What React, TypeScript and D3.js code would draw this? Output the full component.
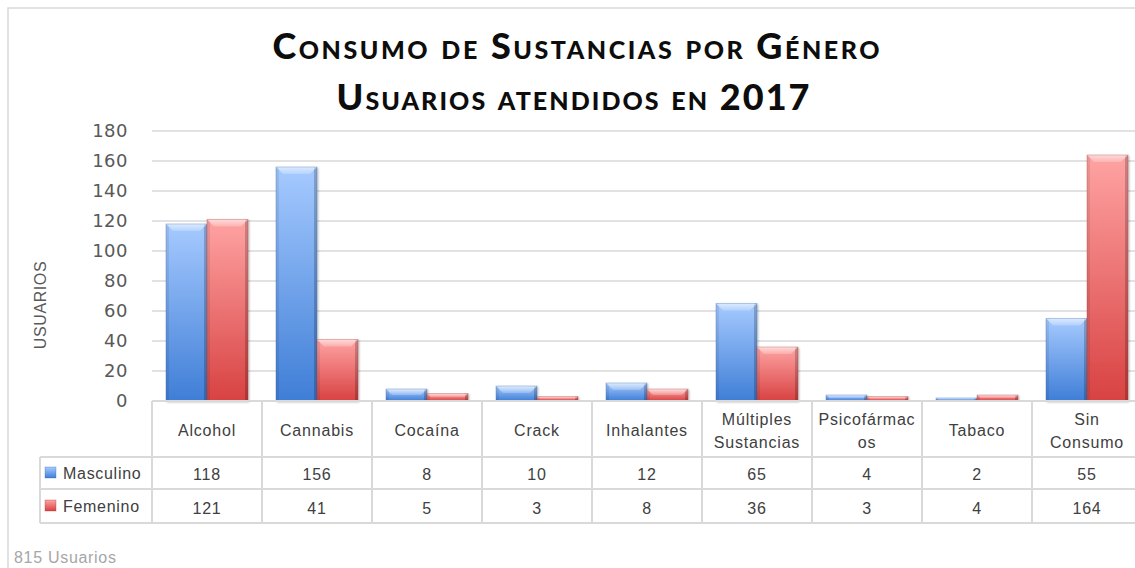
import React from "react";
import * as d3 from "d3";

const categories = ["Alcohol", "Cannabis", "Cocaína", "Crack", "Inhalantes", "Múltiples Sustancias", "Psicofármacos", "Tabaco", "Sin Consumo"];
const categoryLines = [["Alcohol"], ["Cannabis"], ["Cocaína"], ["Crack"], ["Inhalantes"], ["Múltiples", "Sustancias"], ["Psicofármac", "os"], ["Tabaco"], ["Sin", "Consumo"]];
const seriesNames = ["Masculino", "Femenino"];
const masculino = [118, 156, 8, 10, 12, 65, 4, 2, 55];
const femenino = [121, 41, 5, 3, 8, 36, 3, 4, 164];
const seriesValues = [masculino, femenino];
const titleLine1 = "Consumo de Sustancias  por Género";
const titleLine2 = "Usuarios atendidos en 2017";
const yTitle = "USUARIOS";
const footer = "815 Usuarios";

const W = 1135, H = 568;
const plotTop = 131, plotBottom = 401;
const tableLeft = 152, tableRight = 1142, legendLeft = 40;
const rowHeader = 457, rowM = 489, rowF = 523;

const grads = [
  { id: "gBlue", top: "#a6caff", bottom: "#3f7ed6", edge: "#2f64b0" },
  { id: "gRed", top: "#ffa3a3", bottom: "#d84242", edge: "#a83030" },
];

function Bar({ x, y, w, h, g }: any) {
  if (h <= 0) return null;
  const b = Math.min(7, h / 2);
  return (
    <g filter="url(#shadow)">
      <rect x={x} y={y} width={w} height={h} fill={`url(#${g.id})`} />
      <rect x={x} y={y} width={3} height={h} fill="#000" opacity={0.08} />
      <rect x={x + w - 3} y={y} width={3} height={h} fill="#000" opacity={0.2} />
      <polygon
        points={`${x},${y} ${x + w},${y} ${x + w - b},${y + b} ${x + b},${y + b}`}
        fill="url(#bevel)"
      />
      <rect x={x} y={y} width={w} height={h} fill="none" stroke={g.edge} strokeOpacity={0.35} strokeWidth={0.8} />
    </g>
  );
}

export default function App() {
  const x0 = d3.scaleBand<string>().domain(categories).range([tableLeft, tableRight]);
  const x1 = d3.scaleBand<string>().domain(seriesNames).range([0, x0.bandwidth()]).paddingOuter(0.341);
  const y = d3.scaleLinear().domain([0, 180]).range([plotBottom, plotTop]);
  const ticks = y.ticks(9);
  const boundaries = categories.map((c) => x0(c)!).concat([tableRight]);
  const axisColor = "#595959";
  const textColor = "#404040";
  const lineColor = "#d9d9d9";
  const tableFont = "'Liberation Sans', Arial, sans-serif";

  return (
    <svg width={W} height={H} style={{ position: "absolute", left: 0, top: 0, background: "#fff" }}>
      <defs>
        {grads.map((g) => (
          <linearGradient key={g.id} id={g.id} x1="0" y1="0" x2="0" y2="1">
            <stop offset="0%" stopColor={g.top} />
            <stop offset="100%" stopColor={g.bottom} />
          </linearGradient>
        ))}
        <linearGradient id="bevel" x1="0" y1="0" x2="0" y2="1">
          <stop offset="0%" stopColor="#fff" stopOpacity={0.6} />
          <stop offset="100%" stopColor="#fff" stopOpacity={0.2} />
        </linearGradient>
        <filter id="shadow" x="-20%" y="-5%" width="140%" height="110%">
          <feDropShadow dx="1" dy="1" stdDeviation="1.2" floodColor="#000" floodOpacity="0.3" />
        </filter>
      </defs>

      <rect x={8} y={8} width={W} height={H} fill="#fff" stroke={lineColor} strokeWidth={1.5} />

      <text x={576} y={59} textAnchor="middle" fontFamily="Lato, 'Open Sans', sans-serif" fontWeight="900"
        fontSize={36} fill="#0d0d0d" style={{ fontVariant: "small-caps" }} textLength={607} lengthAdjust="spacing">
        {titleLine1}
      </text>
      <text x={573} y={110} textAnchor="middle" fontFamily="Lato, 'Open Sans', sans-serif" fontWeight="900"
        fontSize={36} fill="#0d0d0d" style={{ fontVariant: "small-caps" }} textLength={473} lengthAdjust="spacing">
        {titleLine2}
      </text>

      {ticks.filter((t) => t !== 0).map((t) => (
        <line key={t} x1={tableLeft} x2={W} y1={y(t)} y2={y(t)} stroke={lineColor} strokeWidth={1.5} />
      ))}
      {ticks.map((t) => (
        <text key={t} x={128} y={y(t)} dy="0.36em" textAnchor="end" fontFamily="'DejaVu Sans', sans-serif"
          fontSize={18} fill={axisColor} letterSpacing={0.5}>
          {t}
        </text>
      ))}
      <text transform={`translate(46,${305}) rotate(-90)`} textAnchor="middle" fontFamily={tableFont}
        fontSize={16} fill={axisColor} letterSpacing={0.6}>
        {yTitle}
      </text>

      {categories.map((c, i) => (
        <g key={c}>
          {seriesNames.map((s, j) => {
            const v = seriesValues[j][i];
            const bx = x0(c)! + x1(s)!;
            return <Bar key={s} x={bx} y={y(v)} w={x1.bandwidth()} h={plotBottom - y(v)} g={grads[j]} />;
          })}
        </g>
      ))}

      <line x1={tableLeft} x2={tableRight} y1={plotBottom} y2={plotBottom} stroke={lineColor} strokeWidth={2} />
      {[rowHeader, rowM, rowF].map((ry) => (
        <line key={ry} x1={legendLeft} x2={tableRight} y1={ry} y2={ry} stroke={lineColor} strokeWidth={2} />
      ))}
      {boundaries.map((bx, i) => (
        <line key={i} x1={bx} x2={bx} y1={plotBottom} y2={rowF} stroke={lineColor} strokeWidth={2} />
      ))}
      <line x1={legendLeft} x2={legendLeft} y1={rowHeader} y2={rowF} stroke={lineColor} strokeWidth={2} />

      {categories.map((c, i) => {
        const cx = x0(c)! + x0.bandwidth() / 2;
        const lines = categoryLines[i];
        const baselines = lines.length === 1 ? [436] : [425, 448];
        return (
          <g key={c} fontFamily={tableFont} fontSize={16} fill={textColor} textAnchor="middle" letterSpacing={0.8}>
            {lines.map((l, k) => (
              <text key={k} x={cx} y={baselines[k]}>{l}</text>
            ))}
            <text x={cx} y={480}>{masculino[i]}</text>
            <text x={cx} y={514}>{femenino[i]}</text>
          </g>
        );
      })}

      {seriesNames.map((s, j) => {
        const cy = j === 0 ? 473 : 506;
        return (
          <g key={s}>
            <rect x={45} y={cy - 6} width={11} height={11} fill={`url(#${grads[j].id})`} stroke={grads[j].edge} strokeOpacity={0.4} strokeWidth={0.8} />
            <text x={63} y={cy + 6} fontFamily={tableFont} fontSize={16} fill={textColor} letterSpacing={0.7}>{s}</text>
          </g>
        );
      })}

      <text x={14} y={563} fontFamily={tableFont} fontSize={16} fill="#a6a6a6" letterSpacing={0.7}>{footer}</text>
    </svg>
  );
}
